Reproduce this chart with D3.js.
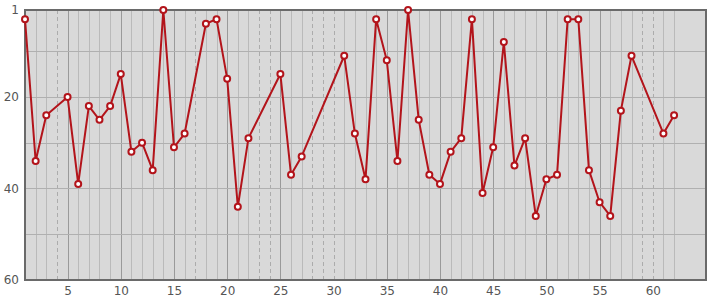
<!DOCTYPE html>
<html>
<head>
<meta charset="utf-8">
<script src="https://cdn.jsdelivr.net/npm/d3@7"></script>
<style>
  body { margin: 0; background: #fff; }
  svg { display: block; font-family: 'DejaVu Sans', sans-serif; }
</style>
</head>
<body>
<div id="chart"></div>
<script>
// x positions (gaps are missing) and the rank value at each one
const xs = [1, 2, 3, 5, 6, 7, 8, 9, 10, 11, 12, 13, 14, 15, 16, 18, 19, 20, 21, 22,
  25, 26, 27, 31, 32, 33, 34, 35, 36, 37, 38, 39, 40, 41, 42, 43, 44, 45, 46, 47,
  48, 49, 50, 51, 52, 53, 54, 55, 56, 57, 58, 61, 62];
const ranks = [3, 34, 24, 20, 39, 22, 25, 22, 15, 32, 30, 36, 1, 31, 28, 4, 3, 16, 44, 29,
  15, 37, 33, 11, 28, 38, 3, 12, 34, 1, 25, 37, 39, 32, 29, 3, 41, 31, 8, 35,
  29, 46, 38, 37, 3, 3, 36, 43, 46, 23, 11, 28, 24];
const xTicks = [5, 10, 15, 20, 25, 30, 35, 40, 45, 50, 55, 60];
const yTicks = [1, 20, 40, 60];
const yGrid = [10, 20, 30, 40, 50];

const W = 715, H = 300;
const margin = { top: 10, right: 9, bottom: 20, left: 25 };
const w = W - margin.left - margin.right;
const h = H - margin.top - margin.bottom;

const svg = d3.select('#chart').append('svg').attr('width', W).attr('height', H);
const g = svg.append('g').attr('transform', `translate(${margin.left},${margin.top})`);

const x = d3.scaleLinear().domain([1, 65]).range([0, w]);
const y = d3.scaleLinear().domain([1, 60]).range([0, h]);

const data = xs.map((v, i) => ({ x: v, r: ranks[i] }));
const present = new Set(xs);

// plot background
g.append('rect').attr('width', w).attr('height', h).attr('fill', '#d9d9d9');

// vertical grid, one per slot; empty slots are dashed
const slots = d3.range(1, d3.max(xs) + 1);
g.append('g').selectAll('line').data(slots).enter().append('line')
  .attr('x1', d => Math.round(x(d)) + 0.5).attr('x2', d => Math.round(x(d)) + 0.5)
  .attr('y1', 0).attr('y2', h)
  .attr('stroke', d => present.has(d) ? (d % 5 === 0 ? '#9a9a9a' : '#bababa') : '#acacac')
  .attr('stroke-dasharray', d => present.has(d) ? null : '4 3');

// horizontal grid
g.append('g').selectAll('line').data(yGrid).enter().append('line')
  .attr('x1', 0).attr('x2', w)
  .attr('y1', d => Math.round(y(d)) + 0.5).attr('y2', d => Math.round(y(d)) + 0.5)
  .attr('stroke', '#b0b0b0');

// frame
g.append('rect').attr('width', w).attr('height', h)
  .attr('fill', 'none').attr('stroke', '#6a6a6a').attr('stroke-width', 2);

// axes (labels only)
const xAxis = g.append('g').attr('transform', `translate(0,${h})`)
  .call(d3.axisBottom(x).tickValues(xTicks).tickSize(0).tickPadding(6));
const yAxis = g.append('g')
  .call(d3.axisLeft(y).tickValues(yTicks).tickSize(0).tickPadding(6));
[xAxis, yAxis].forEach(a => {
  a.select('.domain').remove();
  a.selectAll('text').attr('fill', '#555').attr('font-size', '12px')
    .attr('font-family', "'DejaVu Sans', sans-serif");
});

// line
const line = d3.line().x(d => x(d.x)).y(d => y(d.r));
g.append('path').datum(data)
  .attr('fill', 'none').attr('stroke', '#b3141b').attr('stroke-width', 2)
  .attr('stroke-linejoin', 'round').attr('d', line);

// markers
g.append('g').selectAll('circle').data(data).enter().append('circle')
  .attr('cx', d => x(d.x)).attr('cy', d => y(d.r)).attr('r', 3)
  .attr('fill', '#fff').attr('stroke', '#b3141b').attr('stroke-width', 2);
</script>
</body>
</html>
